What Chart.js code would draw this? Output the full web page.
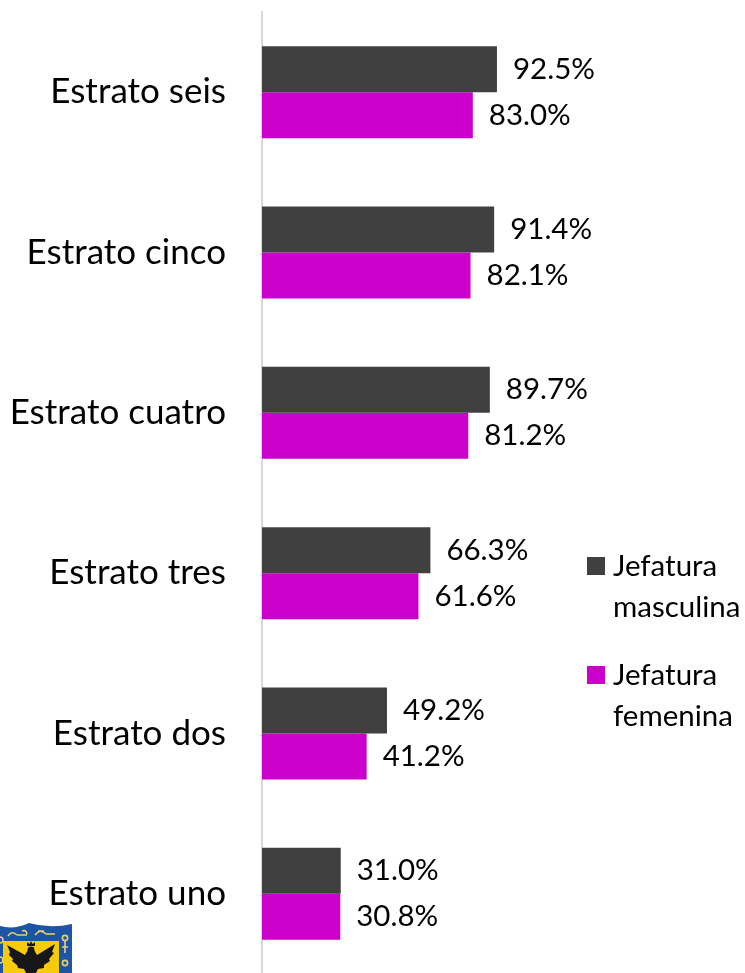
<!DOCTYPE html>
<html>
<head>
<meta charset="utf-8">
<title>Jefatura por estrato</title>
<script src="https://cdn.jsdelivr.net/npm/chart.js@4"></script>
<style>
  html, body { margin: 0; background: #fff; overflow: hidden; }
  #wrap { position: relative; width: 745px; height: 973px; overflow: hidden; }
  #wrap canvas { position: absolute; left: 0; top: 0; }
  #escudo { position: absolute; left: 0; top: 923px; }
</style>
</head>
<body>
<div id="wrap">
  <canvas id="chart" width="745" height="975"></canvas>
  <!-- escudo de Bogota, cortado por el borde como en la imagen -->
  <svg id="escudo" width="73" height="50" viewBox="0 0 73 50">
    <path d="M0 3 Q14 7 29 0 Q50 6 72 1 L72 50 L0 50 Z" fill="#1c55a5"/>
    <path d="M3 18 H59 V50 H3 Z" fill="#f8cb0a"/>
    <g fill="none" stroke="#e9cf6a" stroke-width="1.6">
      <path d="M8 13 Q12 7 17 12 M17 12 H27 M22 8 Q26 6 27 11 M35 12 Q40 5 46 11 M46 11 H55 M38 8 H44"/>
      <circle cx="65" cy="15" r="2.6"/>
      <path d="M65 18 V30 M62 24 H68"/>
      <circle cx="65" cy="40" r="2.6"/>
      <circle cx="0" cy="17" r="3"/>
      <circle cx="0" cy="37" r="3"/>
    </g>
    <path d="M7 22 L25 32 L28 27 L34 27 L37 32 L55 21 L52 29 L54 30 L49 36 L50 38 L44 42 L44 45 L38 46 L36 50 L26 50 L24 46 L18 45 L17 42 L12 38 L13 36 L9 32 L10 29 Z" fill="#17171a"/>
    <path d="M27 23 L27 19 L29.5 21 L31 18 L32.5 21 L35 19 L35 23 Z" fill="#17171a"/>
    <circle cx="31" cy="27" r="3.4" fill="#17171a"/>
  </svg>
</div>

<script>
// DATOS
const categories = ["Estrato seis", "Estrato cinco", "Estrato cuatro", "Estrato tres", "Estrato dos", "Estrato uno"];
const jefaturaMasculina = [92.5, 91.4, 89.7, 66.3, 49.2, 31.0];
const jefaturaFemenina = [83.0, 82.1, 81.2, 61.6, 41.2, 30.8];
const seriesNames = [["Jefatura", "masculina"], ["Jefatura", "femenina"]];
const seriesColors = ["#404040", "#CC00CC"];

const FONT = "Lato, 'Open Sans', sans-serif";

// etiquetas al final de cada barra
const barLabels = {
  id: "barLabels",
  afterDatasetsDraw(chart) {
    const ctx = chart.ctx;
    ctx.save();
    ctx.font = "29.5px " + FONT;
    ctx.fillStyle = "#000";
    ctx.textBaseline = "middle";
    ctx.textAlign = "left";
    chart.data.datasets.forEach((ds, i) => {
      chart.getDatasetMeta(i).data.forEach((bar, j) => {
        ctx.fillText(ds.data[j].toFixed(1) + "%", bar.x + 16, bar.y);
      });
    });
    ctx.restore();
  }
};

// leyenda a la derecha, con el texto en dos lineas
const sideLegend = {
  id: "sideLegend",
  afterDraw(chart) {
    const ctx = chart.ctx;
    const rows = [566, 675];
    ctx.save();
    ctx.font = "29.5px " + FONT;
    ctx.textBaseline = "middle";
    ctx.textAlign = "left";
    chart.data.datasets.forEach((ds, i) => {
      ctx.fillStyle = ds.backgroundColor;
      ctx.fillRect(587, rows[i] - 9, 18, 18);
      ctx.fillStyle = "#000";
      ctx.fillText(seriesNames[i][0], 613, rows[i]);
      ctx.fillText(seriesNames[i][1], 613, rows[i] + 41);
    });
    ctx.restore();
  }
};

new Chart(document.getElementById("chart"), {
  type: "bar",
  data: {
    labels: categories,
    datasets: [
      { label: seriesNames[0].join(" "), data: jefaturaMasculina, backgroundColor: seriesColors[0] },
      { label: seriesNames[1].join(" "), data: jefaturaFemenina, backgroundColor: seriesColors[1] }
    ]
  },
  options: {
    indexAxis: "y",
    responsive: false,
    animation: false,
    layout: { padding: { top: 12, bottom: 1, right: 229 } },
    datasets: { bar: { categoryPercentage: 0.574, barPercentage: 1 } },
    scales: {
      x: { display: false, min: 0, max: 100 },
      y: {
        grid: { display: false },
        border: { color: "#d9d9d9", width: 2 },
        ticks: { color: "#000", font: { family: FONT, size: 35 }, padding: 28 },
        afterFit(axis) {
          axis.width = 262;
          // sin margen extra arriba y abajo por el alto de las etiquetas
          axis.paddingTop = 0;
          axis.paddingBottom = 0;
        }
      }
    },
    plugins: { legend: { display: false }, tooltip: { enabled: false } }
  },
  plugins: [barLabels, sideLegend]
});
</script>
</body>
</html>
